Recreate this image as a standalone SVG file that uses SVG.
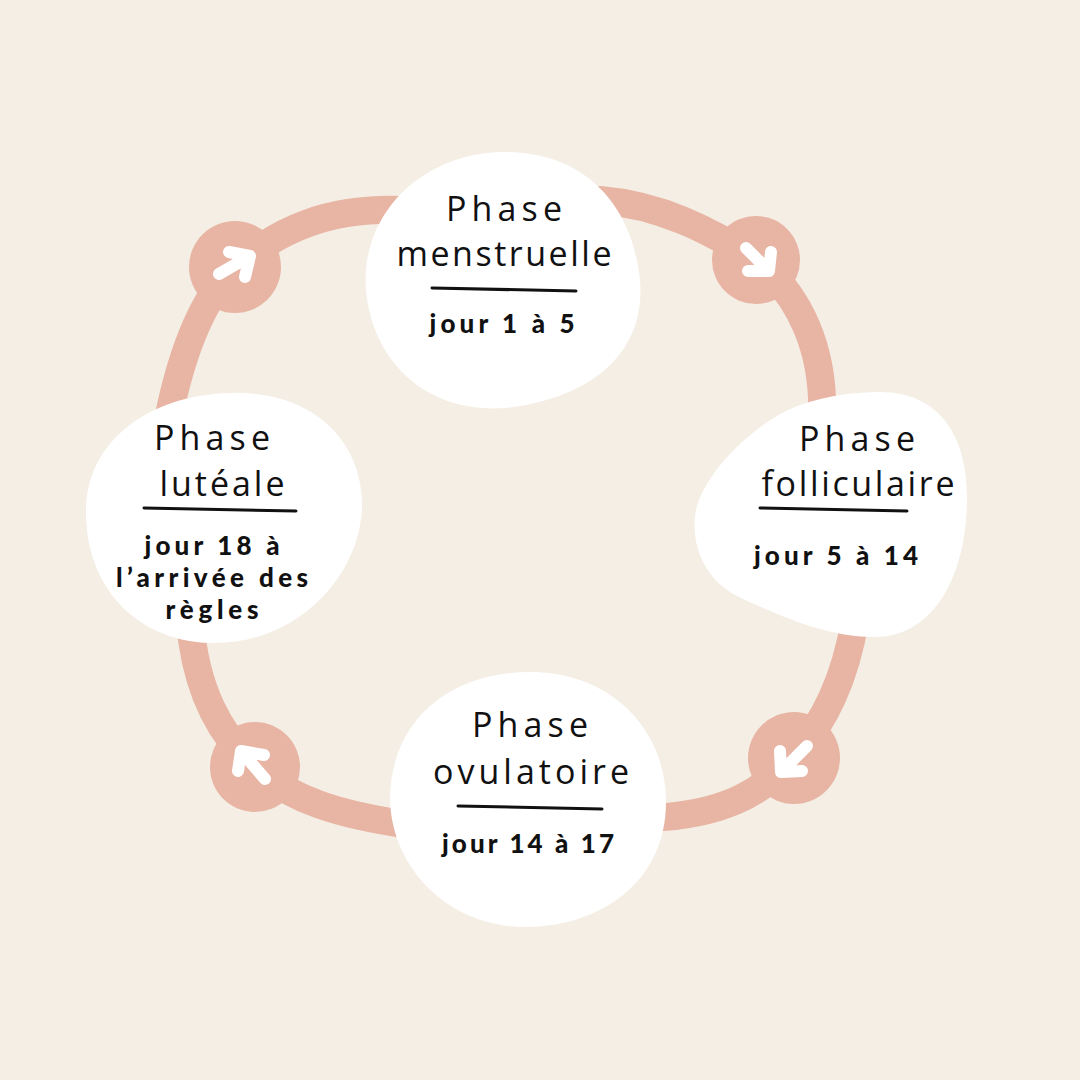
<svg xmlns="http://www.w3.org/2000/svg" width="1080" height="1080" viewBox="0 0 1080 1080">
  <style>
    .ring { fill: none; stroke: #E8B4A3; stroke-width: 28; stroke-linecap: round; }
    .dot { fill: #E8B4A3; }
    .arr { fill: none; stroke: #FFFFFF; stroke-width: 12; stroke-linecap: round; stroke-linejoin: round; }
    .blob { fill: #FFFFFF; }
    .title { font-family: "Open Sans", "Noto Sans", sans-serif; font-size: 34px; font-weight: 400; fill: #111111; text-anchor: middle; }
    .sub { font-family: "Lato", "Open Sans", sans-serif; font-size: 26px; font-weight: 900; fill: #111111; text-anchor: middle; }
    .rule { stroke: #111111; stroke-width: 3; stroke-linecap: round; }
  </style>
  <rect x="0" y="0" width="1080" height="1080" fill="#F4EEE4"/>

  <g id="connectors">
    <path class="ring" d="M 400,210 C 330,208 280,228 235,267 C 200,300 180,360 168,420"/>
    <path class="ring" d="M 600,200 C 660,205 710,230 756,260 C 800,295 825,350 822,420"/>
    <path class="ring" d="M 855,620 C 845,680 825,720 794,758 C 760,795 720,815 650,818"/>
    <path class="ring" d="M 190,620 C 195,690 220,735 255,767 C 290,800 340,815 410,825"/>
    <circle class="dot" cx="235" cy="267" r="46"/>
    <circle class="dot" cx="756" cy="260" r="44"/>
    <circle class="dot" cx="794" cy="758" r="46"/>
    <circle class="dot" cx="255" cy="767" r="45"/>
    <path class="arr" d="M 219,274 L 250,256 M 229,252 L 250,256 L 245,277"/>
    <path class="arr" d="M 746,248 L 769,271 M 748,271 L 769,271 L 771,252"/>
    <path class="arr" d="M 807,746 L 781,772 M 780,751 L 781,772 L 802,771"/>
    <path class="arr" d="M 265,779 L 241,751 M 264,755 L 241,751 L 238,771"/>
  </g>

  <g id="node-menstruelle">
    <path class="blob" d="M 500,152 C 585,150 632,205 640,280 C 646,350 595,398 505,408 C 425,414 372,360 366,290 C 360,215 420,155 500,152 Z"/>
    <text class="title"><tspan x="504" y="221" textLength="116">Phase</tspan><tspan x="504" y="266" textLength="215">menstruelle</tspan></text>
    <line class="rule" x1="432" y1="288" x2="576" y2="291"/>
    <text class="sub" x="502" y="333" textLength="145">jour 1 à 5</text>
  </g>

  <g id="node-folliculaire">
    <path class="blob" d="M 880,392 C 942,392 968,440 967,500 C 966,582 930,637 875,637 C 830,637 790,620 745,600 C 702,582 690,542 696,510 C 705,470 758,420 800,405 C 830,395 855,392 880,392 Z"/>
    <text class="title"><tspan x="857" y="451" textLength="116">Phase</tspan><tspan x="858" y="496" textLength="193">folliculaire</tspan></text>
    <line class="rule" x1="760" y1="508" x2="907" y2="511"/>
    <text class="sub" x="836" y="565" textLength="164">jour 5 à 14</text>
  </g>

  <g id="node-ovulatoire">
    <path class="blob" d="M 530,672 C 612,672 665,730 666,800 C 667,882 600,927 525,927 C 450,927 392,870 390,800 C 390,720 450,672 530,672 Z"/>
    <text class="title"><tspan x="530" y="737" textLength="116">Phase</tspan><tspan x="531" y="784" textLength="196">ovulatoire</tspan></text>
    <line class="rule" x1="458" y1="806" x2="602" y2="809"/>
    <text class="sub" x="528" y="853" textLength="172">jour 14 à 17</text>
  </g>

  <g id="node-luteale">
    <path class="blob" d="M 230,393 C 312,390 360,440 362,500 C 364,572 300,643 215,643 C 140,643 85,590 86,510 C 87,440 150,395 230,393 Z"/>
    <text class="title"><tspan x="212" y="450" textLength="116">Phase</tspan><tspan x="222" y="496" textLength="125">lutéale</tspan></text>
    <line class="rule" x1="144" y1="508" x2="296" y2="511"/>
    <text class="sub"><tspan x="212" y="555" textLength="135">jour 18 à</tspan><tspan x="212" y="587" textLength="192">l’arrivée des</tspan><tspan x="212" y="619" textLength="93">règles</tspan></text>
  </g>
</svg>
